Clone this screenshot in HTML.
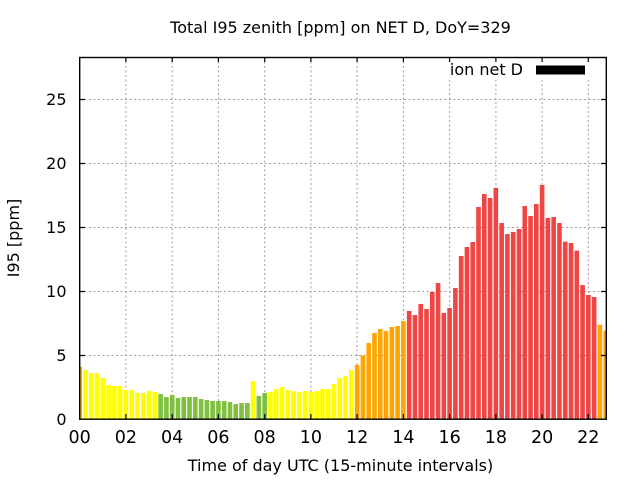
<!DOCTYPE html>
<html>
<head>
<meta charset="utf-8">
<style>
html,body{margin:0;padding:0;background:#fff;}
svg{display:block;}
text{font-family:"DejaVu Sans","Liberation Sans",sans-serif;fill:#000;}
.Y{fill:#ffff00}.G{fill:#80c040}.O{fill:#ffa500}.R{fill:#f04545}
</style>
</head>
<body>
<svg width="640" height="480" viewBox="0 0 640 480" xmlns="http://www.w3.org/2000/svg">
<defs><clipPath id="c"><rect x="79.7" y="57" width="526.6" height="362"/></clipPath></defs>
<rect width="640" height="480" fill="#fff"/>
<!-- grid -->
<g stroke="#a0a0a0" stroke-width="1" stroke-dasharray="2,2.5" fill="none">
<path d="M80 99.5H606M80 163.5H606M80 227.5H606M80 291.5H606M80 355.5H606"/>
<path d="M125.9 57V419M172.2 57V419M218.4 57V419M264.7 57V419M310.9 57V419M357.1 57V419M403.4 57V419M449.6 57V419M495.9 57V419M542.1 57V419M588.3 57V419"/>
</g>
<!-- bars -->
<g clip-path="url(#c)"><g transform="translate(79.7 0) scale(5.78 1)">
<rect class="O" x="-0.4" y="366.7" width="0.8" height="52.3"/>
<rect class="Y" x="0.6" y="370" width="0.8" height="49"/>
<rect class="Y" x="1.6" y="373" width="0.8" height="46"/>
<rect class="Y" x="2.6" y="373" width="0.8" height="46"/>
<rect class="Y" x="3.6" y="378" width="0.8" height="41"/>
<rect class="Y" x="4.6" y="385" width="0.8" height="34"/>
<rect class="Y" x="5.6" y="386" width="0.8" height="33"/>
<rect class="Y" x="6.6" y="386" width="0.8" height="33"/>
<rect class="Y" x="7.6" y="390" width="0.8" height="29"/>
<rect class="Y" x="8.6" y="390" width="0.8" height="29"/>
<rect class="Y" x="9.6" y="393" width="0.8" height="26"/>
<rect class="Y" x="10.6" y="393" width="0.8" height="26"/>
<rect class="Y" x="11.6" y="391" width="0.8" height="28"/>
<rect class="Y" x="12.6" y="392" width="0.8" height="27"/>
<rect class="G" x="13.6" y="394" width="0.8" height="25"/>
<rect class="G" x="14.6" y="397" width="0.8" height="22"/>
<rect class="G" x="15.6" y="395" width="0.8" height="24"/>
<rect class="G" x="16.6" y="398" width="0.8" height="21"/>
<rect class="G" x="17.6" y="397" width="0.8" height="22"/>
<rect class="G" x="18.6" y="397" width="0.8" height="22"/>
<rect class="G" x="19.6" y="397" width="0.8" height="22"/>
<rect class="G" x="20.6" y="399" width="0.8" height="20"/>
<rect class="G" x="21.6" y="400" width="0.8" height="19"/>
<rect class="G" x="22.6" y="401" width="0.8" height="18"/>
<rect class="G" x="23.6" y="401" width="0.8" height="18"/>
<rect class="G" x="24.6" y="401" width="0.8" height="18"/>
<rect class="G" x="25.6" y="402" width="0.8" height="17"/>
<rect class="G" x="26.6" y="404" width="0.8" height="15"/>
<rect class="G" x="27.6" y="403" width="0.8" height="16"/>
<rect class="G" x="28.6" y="403" width="0.8" height="16"/>
<rect class="Y" x="29.6" y="381" width="0.8" height="38"/>
<rect class="G" x="30.6" y="396" width="0.8" height="23"/>
<rect class="G" x="31.6" y="393" width="0.8" height="26"/>
<rect class="Y" x="32.6" y="392" width="0.8" height="27"/>
<rect class="Y" x="33.6" y="389" width="0.8" height="30"/>
<rect class="Y" x="34.6" y="387" width="0.8" height="32"/>
<rect class="Y" x="35.6" y="390" width="0.8" height="29"/>
<rect class="Y" x="36.6" y="391" width="0.8" height="28"/>
<rect class="Y" x="37.6" y="392" width="0.8" height="27"/>
<rect class="Y" x="38.6" y="391" width="0.8" height="28"/>
<rect class="Y" x="39.6" y="392" width="0.8" height="27"/>
<rect class="Y" x="40.6" y="391" width="0.8" height="28"/>
<rect class="Y" x="41.6" y="389" width="0.8" height="30"/>
<rect class="Y" x="42.6" y="389" width="0.8" height="30"/>
<rect class="Y" x="43.6" y="384" width="0.8" height="35"/>
<rect class="Y" x="44.6" y="378" width="0.8" height="41"/>
<rect class="Y" x="45.6" y="376" width="0.8" height="43"/>
<rect class="Y" x="46.6" y="370" width="0.8" height="49"/>
<rect class="O" x="47.6" y="365" width="0.8" height="54"/>
<rect class="O" x="48.6" y="355.5" width="0.8" height="63.5"/>
<rect class="O" x="49.6" y="343" width="0.8" height="76"/>
<rect class="O" x="50.6" y="333" width="0.8" height="86"/>
<rect class="O" x="51.6" y="329" width="0.8" height="90"/>
<rect class="O" x="52.6" y="331" width="0.8" height="88"/>
<rect class="O" x="53.6" y="327" width="0.8" height="92"/>
<rect class="O" x="54.6" y="326" width="0.8" height="93"/>
<rect class="O" x="55.6" y="321" width="0.8" height="98"/>
<rect class="R" x="56.6" y="311" width="0.8" height="108"/>
<rect class="R" x="57.6" y="315" width="0.8" height="104"/>
<rect class="R" x="58.6" y="304" width="0.8" height="115"/>
<rect class="R" x="59.6" y="309" width="0.8" height="110"/>
<rect class="R" x="60.6" y="292" width="0.8" height="127"/>
<rect class="R" x="61.6" y="283" width="0.8" height="136"/>
<rect class="R" x="62.6" y="313" width="0.8" height="106"/>
<rect class="R" x="63.6" y="308" width="0.8" height="111"/>
<rect class="R" x="64.6" y="288" width="0.8" height="131"/>
<rect class="R" x="65.6" y="256" width="0.8" height="163"/>
<rect class="R" x="66.6" y="247" width="0.8" height="172"/>
<rect class="R" x="67.6" y="242" width="0.8" height="177"/>
<rect class="R" x="68.6" y="207" width="0.8" height="212"/>
<rect class="R" x="69.6" y="194" width="0.8" height="225"/>
<rect class="R" x="70.6" y="198" width="0.8" height="221"/>
<rect class="R" x="71.6" y="188" width="0.8" height="231"/>
<rect class="R" x="72.6" y="223" width="0.8" height="196"/>
<rect class="R" x="73.6" y="234" width="0.8" height="185"/>
<rect class="R" x="74.6" y="232" width="0.8" height="187"/>
<rect class="R" x="75.6" y="229" width="0.8" height="190"/>
<rect class="R" x="76.6" y="206" width="0.8" height="213"/>
<rect class="R" x="77.6" y="216" width="0.8" height="203"/>
<rect class="R" x="78.6" y="204" width="0.8" height="215"/>
<rect class="R" x="79.6" y="185" width="0.8" height="234"/>
<rect class="R" x="80.6" y="218" width="0.8" height="201"/>
<rect class="R" x="81.6" y="217" width="0.8" height="202"/>
<rect class="R" x="82.6" y="223" width="0.8" height="196"/>
<rect class="R" x="83.6" y="241.7" width="0.8" height="177.3"/>
<rect class="R" x="84.6" y="243" width="0.8" height="176"/>
<rect class="R" x="85.6" y="250.7" width="0.8" height="168.3"/>
<rect class="R" x="86.6" y="285" width="0.8" height="134"/>
<rect class="R" x="87.6" y="295" width="0.8" height="124"/>
<rect class="R" x="88.6" y="297" width="0.8" height="122"/>
<rect class="O" x="89.6" y="324.7" width="0.8" height="94.3"/>
<rect class="O" x="90.6" y="330.7" width="0.8" height="88.3"/>
</g></g>
<!-- key (opaque) -->
<rect x="445" y="58" width="160" height="22" fill="#fff"/>
<text x="523" y="75" font-size="16" text-anchor="end">ion net D</text>
<rect x="536" y="65.5" width="49" height="9" fill="#000"/>
<!-- border -->
<rect x="79.7" y="57.5" width="526.6" height="361.7" fill="none" stroke="#000" stroke-width="1.4"/>
<!-- ticks -->
<g stroke="#000" stroke-width="1.2">
<path d="M80 99.5h5M80 163.5h5M80 227.5h5M80 291.5h5M80 355.5h5"/>
<path d="M606 99.5h-5M606 163.5h-5M606 227.5h-5M606 291.5h-5M606 355.5h-5"/>
<path d="M125.9 419v-5M172.2 419v-5M218.4 419v-5M264.7 419v-5M310.9 419v-5M357.1 419v-5M403.4 419v-5M449.6 419v-5M495.9 419v-5M542.1 419v-5M588.3 419v-5"/>
<path d="M125.9 58v4M172.2 58v4M218.4 58v4M264.7 58v4M310.9 58v4M357.1 58v4M403.4 58v4M449.6 58v4M495.9 58v4M542.1 58v4M588.3 58v4"/>
</g>
<!-- y tick labels -->
<g font-size="16" text-anchor="end">
<text x="66.5" y="424.8">0</text>
<text x="66.5" y="360.8">5</text>
<text x="66.5" y="296.8">10</text>
<text x="66.5" y="232.8">15</text>
<text x="66.5" y="168.8">20</text>
<text x="66.5" y="104.8">25</text>
</g>
<!-- x tick labels -->
<g font-size="17.5" text-anchor="middle">
<text x="79.7" y="443">00</text>
<text x="125.9" y="443">02</text>
<text x="172.2" y="443">04</text>
<text x="218.4" y="443">06</text>
<text x="264.7" y="443">08</text>
<text x="310.9" y="443">10</text>
<text x="357.1" y="443">12</text>
<text x="403.4" y="443">14</text>
<text x="449.6" y="443">16</text>
<text x="495.9" y="443">18</text>
<text x="542.1" y="443">20</text>
<text x="588.3" y="443">22</text>
</g>
<!-- labels -->
<text x="340.5" y="33" font-size="16" text-anchor="middle">Total I95 zenith [ppm] on NET D, DoY=329</text>
<text x="340.5" y="471" font-size="16" text-anchor="middle">Time of day UTC (15-minute intervals)</text>
<text transform="translate(19 238) rotate(-90)" font-size="16" text-anchor="middle">I95 [ppm]</text>
</svg>
</body>
</html>
